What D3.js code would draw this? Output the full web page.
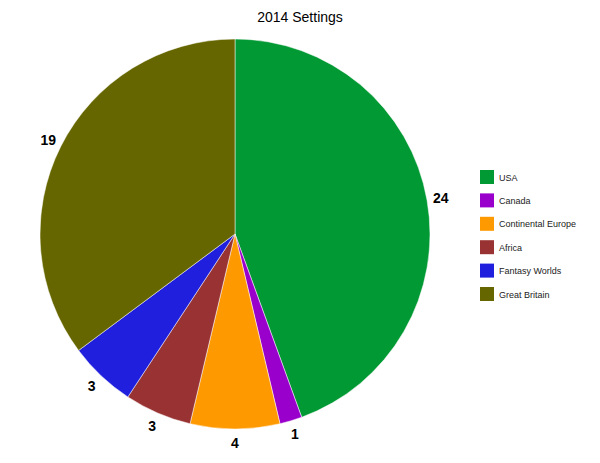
<!DOCTYPE html>
<head>
    <meta charset="utf-8">
    <title>2014 Settings</title>
    <style>
        body { margin: 0; background: #fff; }
        text { font-family: Arial, "Liberation Sans", sans-serif; }
    </style>
</head>
<body>

<svg width="600" height="463"></svg>

<script src="https://d3js.org/d3.v7.min.js"></script>

<script>

    var categories = ["USA", "Canada", "Continental Europe", "Africa", "Fantasy Worlds", "Great Britain"];
    var values = [24, 1, 4, 3, 3, 19];
    var colors = ["#009933", "#9900cc", "#ff9900", "#993333", "#1f1fdd", "#666600"];

    var svg = d3.select("svg"),
        cx = 235,
        cy = 234,
        radius = 195;

    var color = d3.scaleOrdinal().domain(categories).range(colors);

    // Title
    svg.append("text")
        .attr("x", 300)
        .attr("y", 22)
        .attr("text-anchor", "middle")
        .attr("font-size", 14)
        .text("2014 Settings");

    var pie = d3.pie().sort(null).value(function(d, i) { return values[i]; });
    var arc = d3.arc().innerRadius(0).outerRadius(radius);
    var labelArc = d3.arc().innerRadius(radius + 14).outerRadius(radius + 14);

    var g = svg.append("g").attr("transform", "translate(" + cx + "," + cy + ")");

    var slices = pie(categories);

    g.selectAll("path")
        .data(slices)
        .enter().append("path")
            .attr("d", arc)
            .attr("fill", function(d) { return color(d.data); })
            .attr("stroke", "#fff")
            .attr("stroke-width", 0.5);

    g.selectAll("text")
        .data(slices)
        .enter().append("text")
            .attr("transform", function(d) { return "translate(" + labelArc.centroid(d) + ")"; })
            .attr("text-anchor", "middle")
            .attr("dy", "0.35em")
            .attr("font-size", 14)
            .attr("font-weight", "bold")
            .text(function(d, i) { return values[i]; });

    // Legend
    var legend = svg.append("g")
        .attr("transform", "translate(480,170)")
        .selectAll("g")
        .data(categories)
        .enter().append("g")
            .attr("transform", function(d, i) { return "translate(0," + (i * 23.4) + ")"; });

    legend.append("rect")
        .attr("width", 14)
        .attr("height", 14)
        .attr("fill", function(d) { return color(d); });

    legend.append("text")
        .attr("x", 19)
        .attr("y", 7)
        .attr("dy", "0.4em")
        .attr("font-size", 9)
        .attr("fill", "#222")
        .text(function(d) { return d; });

</script>
</body>
